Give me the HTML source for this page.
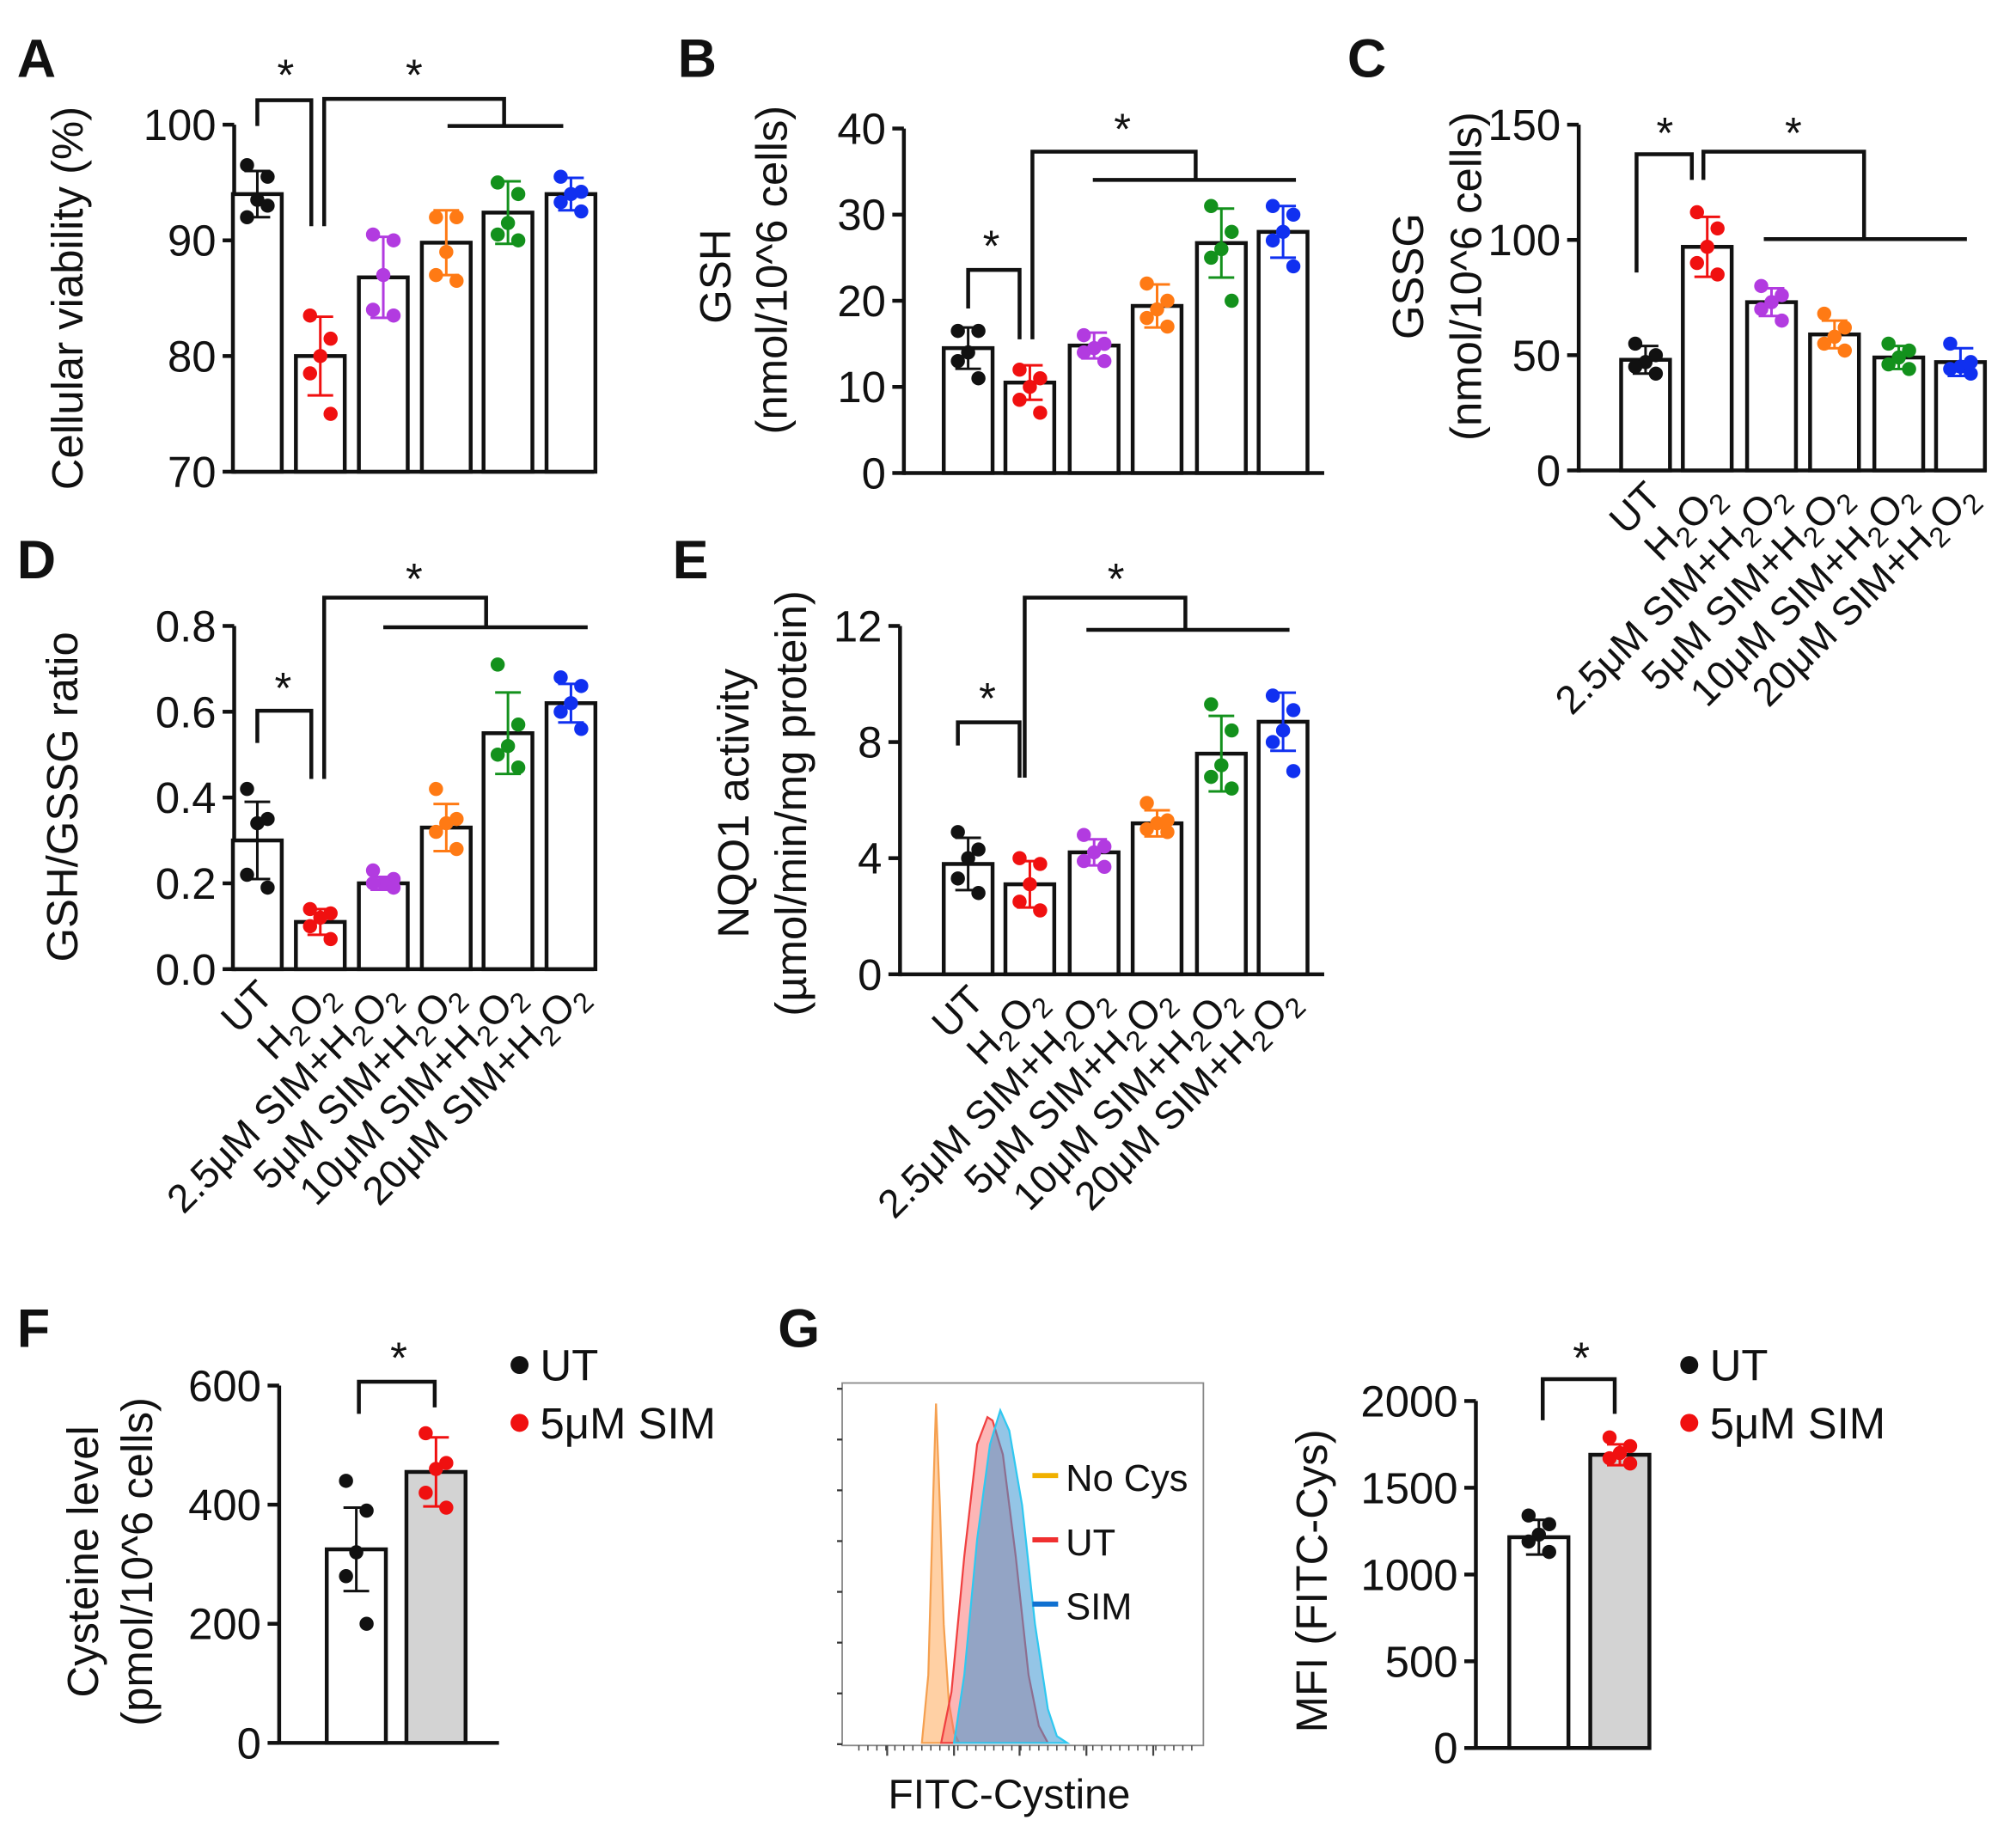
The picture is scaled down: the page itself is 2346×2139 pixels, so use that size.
<!DOCTYPE html>
<html><head><meta charset="utf-8"><style>
html,body{margin:0;padding:0;background:#fff}
svg{display:block}
text{font-family:"Liberation Sans",Arial,sans-serif;fill:#111}
</style></head><body>
<svg id="fig" xmlns="http://www.w3.org/2000/svg" width="2346" height="2139" viewBox="0 0 1568 1430">
<rect width="1568" height="1430" fill="#fff"/>
</svg>
<script>
const groups6 = ["UT","H2O2","2.5μM SIM+H2O2","5μM SIM+H2O2","10μM SIM+H2O2","20μM SIM+H2O2"];
const colors6 = ["#111","#f01010","#b23be0","#ff7a14","#13911c","#1030f0"];
const A_means=[94,80,86.8,89.8,92.4,94];
const A_sd=[2,3.4,3.5,2.8,2.7,1.4];
const A_pts=[[96.5,95.5,93.5,92,93],[83.5,81.5,80,78.5,75],[90.5,90,87,84,83.5],[92,92,89,87,86.5],[95,94,91.5,90.5,90],[95.5,94.2,94,93.3,92.5]];
const A_ticks=[70,80,90,100];
const B_means=[14.5,10.5,14.8,19.4,26.7,28];
const B_sd=[2.4,2,1.5,2.5,4,3];
const B_pts=[[16.5,16.5,14,13,11],[12,11,10,8.5,7],[16,15,14.5,14,13],[22,20,19,18,17],[31,28,26,25,20],[31,30,28,27,24]];
const B_ticks=[0,10,20,30,40];
const C_means=[48,97,73,59,49,47];
const C_sd=[6,13,6,6,5,6];
const C_pts=[[55,50,47,45,42],[112,105,97,90,85],[80,76,73,70,65],[68,62,58,55,52],[55,52,49,46,44],[55,47,45,44,42]];
const C_ticks=[0,50,100,150];
const D_means=[0.30,0.11,0.20,0.33,0.55,0.62];
const D_sd=[0.09,0.03,0.015,0.055,0.095,0.045];
const D_pts=[[0.42,0.35,0.34,0.22,0.19],[0.14,0.13,0.12,0.10,0.07],[0.23,0.21,0.20,0.20,0.19],[0.42,0.35,0.34,0.32,0.28],[0.71,0.57,0.52,0.50,0.47],[0.68,0.66,0.62,0.60,0.56]];
const D_ticks=[0,0.2,0.4,0.6,0.8];
const E_means=[3.8,3.1,4.2,5.2,7.6,8.7];
const E_sd=[0.9,0.8,0.45,0.45,1.3,1];
const E_pts=[[4.9,4.3,4.0,3.3,2.8],[4,3.8,3.1,2.5,2.2],[4.8,4.4,4.2,3.9,3.7],[5.9,5.3,5.2,5.0,4.9],[9.3,8.4,7.2,6.8,6.4],[9.6,9.1,8.4,8.0,7.0]];
const E_ticks=[0,4,8,12];
const groups2=["UT","5μM SIM"];
const colors2=["#111","#f01010"];
const F_means=[325,455];
const F_sd=[70,58];
const F_pts=[[440,390,320,280,200],[520,470,460,420,395]];
const F_ticks=[0,200,400,600];
const G_means=[1215,1690];
const G_sd=[100,60];
const G_pts=[[1340,1290,1230,1190,1130],[1790,1740,1700,1670,1640]];
const G_ticks=[0,500,1000,1500,2000];
const H_orange_x=[717,722,726,728,731,734,738,742,746];
const H_orange_y=[0,20,75,100,70,35,12,3,0];
const H_red_x=[732,740,750,760,768,772,780,790,800,808,815];
const H_red_y=[0,15,55,88,96,95,85,55,20,5,0];
const H_blue_x=[742,750,760,770,778,785,795,805,815,822,830];
const H_blue_y=[0,20,60,88,98,92,70,35,10,2,0];

const svg=document.getElementById('fig');
const NS="http://www.w3.org/2000/svg";
function el(tag,attrs,parent,txt){const e=document.createElementNS(NS,tag);for(const k in attrs)e.setAttribute(k,attrs[k]);if(txt!==undefined)e.textContent=txt;(parent||svg).appendChild(e);return e;}
function line(g,x1,y1,x2,y2,c,w){return el('line',{x1,y1,x2,y2,stroke:c||'#111','stroke-width':w||3},g);}
function poly(g,pts){return el('polyline',{points:pts.map(p=>p.join(',')).join(' '),fill:'none',stroke:'#111','stroke-width':3},g);}
const offs=[-8,8,0,-8,8];

function fmt(v,dec){return dec?v.toFixed(1):String(v);}
function panel(o){
  const g=el('g',{});
  
  
  const y=v=>o.y0+(v-o.vmin)/(o.vmax-o.vmin)*(o.y1-o.y0);
  const ax=el('g',{},g);
  
  
  line(ax,o.ax,o.y0+1.5,o.ax,y(o.vmax));
  o.ticks.forEach(t=>{line(ax,o.ax-9,y(t),o.ax,y(t));
    const tl=el('text',{x:o.ax-14,y:y(t)+12,'font-size':34,'text-anchor':'end'},ax,fmt(t,o.dec));
    
    });
  const xa=line(g,o.ax,o.y0,o.xend,o.y0);
  
  
  o.means.forEach((m,i)=>{
    const cx=o.cx[i],c=o.colors[i];
    const b=el('rect',{x:cx-o.bw/2,y:y(m),width:o.bw,height:o.y0-y(m),fill:(o.fills?o.fills[i]:'#fff'),stroke:'#111','stroke-width':3},g);
    
    
    const eb=el('g',{},g);
    
    
    line(eb,cx,y(m-o.sd[i]),cx,y(m+o.sd[i]),c,2);
    line(eb,cx-10,y(m+o.sd[i]),cx+10,y(m+o.sd[i]),c,2);
    line(eb,cx-10,y(m-o.sd[i]),cx+10,y(m-o.sd[i]),c,2);
    o.pts[i].forEach((p,j)=>{const d=el('circle',{cx:cx+offs[j],cy:y(p),r:5.5,fill:c},g);
      
      });
  });
  if(o.rot){o.labels.forEach((l,i)=>{
    const x=o.cx[i]+14,yy=o.y0+22;
    const t=el('text',{x:x,y:yy,'font-size':31,'text-anchor':'end',transform:`rotate(-45 ${x} ${yy})`},g);
    
    
    const parts=l.split('H2O2');
    if(parts.length>1){t.appendChild(document.createTextNode(parts[0]+'H'));
      el('tspan',{'font-size':22,dy:7},t,'2');el('tspan',{dy:-7},t,'O');el('tspan',{'font-size':22,dy:7},t,'2');}
    else t.textContent=l;
  });}
  o.ylab.forEach((l,k)=>{const t=el('text',{x:0,y:0,'font-size':34,'text-anchor':'middle',transform:`translate(${l[1]},${l[2]}) rotate(-90)`},g,l[0]);
    
    });
  const lt=el('text',{x:o.letter[1],y:o.letter[2],'font-size':42,'font-weight':'bold'},g,o.letter[0]);
  
  
  o.sig.forEach(s=>{const p=poly(g,s);});
  o.stars.forEach(s=>{const t=el('text',{x:s[0],y:s[1],'font-size':34,'text-anchor':'middle'},g,'*');});
  return g;
}
const cxs=[200,249,298,347,395,444], cxs2=[753,801,851,900,950,998];
panel({name:'panel-a-viability',ax:182,y0:367,y1:97,vmin:70,vmax:100,ticks:A_ticks,xend:462,cx:cxs,bw:38,means:A_means,sd:A_sd,pts:A_pts,colors:colors6,labels:groups6,rot:false,
 ylab:[["Cellular viability (%)",64,232]],letter:["A",13,60],
 sig:[[[200,98],[200,78],[242,78],[242,176]],[[252,176],[252,77],[392,77],[392,98]],[[348,98],[438,98]]],stars:[[222,70],[322,70]]});
panel({name:'panel-b-gsh',ax:703,y0:368,y1:100,vmin:0,vmax:40,ticks:B_ticks,xend:1030,cx:cxs2,bw:38,means:B_means,sd:B_sd,pts:B_pts,colors:colors6,labels:groups6,rot:false,
 ylab:[["GSH",568,215],["(nmol/10^6 cells)",612,210]],letter:["B",527,60],
 sig:[[[753,240],[753,210],[793,210],[793,264]],[[803,264],[803,118],[930,118],[930,140]],[[850,140],[1008,140]]],stars:[[771,203],[873,112]]});
panel({name:'panel-c-gssg',ax:1228,y0:366,y1:97,vmin:0,vmax:150,ticks:C_ticks,xend:1545,cx:[1280,1328,1378,1427,1477,1525],bw:38,means:C_means,sd:C_sd,pts:C_pts,colors:colors6,labels:groups6,rot:true,
 ylab:[["GSSG",1107,215],["(nmol/10^6 cells)",1152,215]],letter:["C",1048,60],
 sig:[[[1273,212],[1273,120],[1316,120],[1316,140]],[[1325,140],[1325,118],[1450,118],[1450,186]],[[1372,186],[1530,186]]],stars:[[1295,115],[1395,115]]});
panel({name:'panel-d-ratio',ax:182,y0:754,y1:487,vmin:0,vmax:0.8,dec:true,ticks:D_ticks,xend:462,cx:cxs,bw:38,means:D_means,sd:D_sd,pts:D_pts,colors:colors6,labels:groups6,rot:true,
 ylab:[["GSH/GSSG ratio",60,620]],letter:["D",13,450],
 sig:[[[200,578],[200,553],[242,553],[242,606]],[[252,606],[252,465],[378,465],[378,488]],[[298,488],[457,488]]],stars:[[220,547],[322,462]]});
panel({name:'panel-e-nqo1',ax:700,y0:758,y1:487,vmin:0,vmax:12,ticks:E_ticks,xend:1030,cx:cxs2,bw:38,means:E_means,sd:E_sd,pts:E_pts,colors:colors6,labels:groups6,rot:true,
 ylab:[["NQO1 activity",582,625],["(µmol/min/mg protein)",627,625]],letter:["E",523,450],
 sig:[[[745,580],[745,562],[793,562],[793,605]],[[797,605],[797,465],[922,465],[922,490]],[[845,490],[1003,490]]],stars:[[768,555],[868,462]]});
panel({name:'panel-f-cysteine',ax:217,y0:1356,y1:1078,vmin:0,vmax:600,ticks:F_ticks,xend:388,cx:[277,339],bw:46,means:F_means,sd:F_sd,pts:F_pts,colors:colors2,labels:groups2,fills:['#fff','#d3d3d3'],rot:false,
 ylab:[["Cysteine level",76,1215],["(pmol/10^6 cells)",118,1215]],letter:["F",13,1048],
 sig:[[[279,1100],[279,1075],[338,1075],[338,1095]]],stars:[[310,1068]]});
panel({name:'panel-g-mfi',ax:1148,y0:1360,y1:1090,vmin:0,vmax:2000,ticks:G_ticks,xend:1280,cx:[1197,1260],bw:46,means:G_means,sd:G_sd,pts:G_pts,colors:colors2,labels:groups2,fills:['#fff','#d3d3d3'],rot:false,
 ylab:[["MFI (FITC-Cys)",1032,1230]],letter:["G",605,1048],
 sig:[[[1200,1105],[1200,1073],[1256,1073],[1256,1100]]],stars:[[1230,1068]]});
function legend(x,name){const g=el('g',{});
  groups2.forEach((l,i)=>{const yy=1062+i*45;el('circle',{cx:x,cy:yy,r:7,fill:colors2[i]},g);
    const t=el('text',{x:x+16,y:yy+12,'font-size':34},g,l);});}
legend(404,'legend-f');legend(1314,'legend-g');
const hg=el('g',{});
const hy=h=>1356-h*2.64;
el('rect',{x:655,y:1076,width:281,height:282,fill:'none',stroke:'#888','stroke-width':1.2},hg);
for(let i=0;i<8;i++)line(hg,651,1357-i*39.5,655,1357-i*39.5,'#333',1.5);
for(let x=668;x<930;x+=7)line(hg,x,1358,x,1362,'#444',1);
[690,742,793,845,897].forEach(x=>line(hg,x,1358,x,1366,'#444',1.5));
function hist(xs,ys,fill,stroke,name){const pts=xs.map((x,i)=>x+','+hy(ys[i])).join(' ');
  const p=el('polygon',{points:pts,fill:fill,stroke:stroke,'stroke-width':1.5},hg);}
hist(H_orange_x,H_orange_y,'rgba(255,170,90,0.55)','#f5a050','hist-no-cys');
hist(H_red_x,H_red_y,'rgba(250,110,110,0.5)','#f04040','hist-ut');
hist(H_blue_x,H_blue_y,'rgba(60,150,210,0.55)','#30c8f0','hist-sim');
[["No Cys","#f0b000",1150],["UT","#f03030",1200],["SIM","#1070d0",1250]].forEach(l=>{
  line(hg,803,l[2]-2,823,l[2]-2,l[1],4);
  const t=el('text',{x:829,y:l[2]+10,'font-size':29},hg,l[0]);});
const xt=el('text',{x:785,y:1407,'font-size':32,'text-anchor':'middle'},hg,'FITC-Cystine');


</script>
</body></html>
